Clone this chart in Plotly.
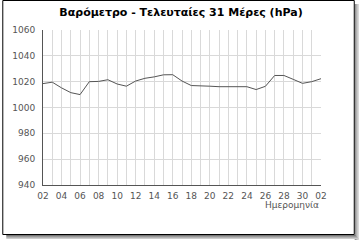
import plotly.graph_objects as go

days = ["02","03","04","05","06","07","08","09","10","11","12","13","14","15","16",
        "17","18","19","20","21","22","23","24","25","26","27","28","29","30","01","02"]
pressure = [1018.5, 1019.6, 1015.2, 1011.5, 1010.0, 1020.0, 1020.2, 1021.5, 1018.2, 1016.5,
            1020.5, 1022.6, 1023.7, 1025.3, 1025.4, 1020.5, 1017.0, 1016.9, 1016.5, 1016.1,
            1016.1, 1016.1, 1016.1, 1013.9, 1016.4, 1024.8, 1024.8, 1021.8, 1018.7, 1020.0, 1022.3]
y_ticks = [940, 960, 980, 1000, 1020, 1040, 1060]

title = "Βαρόμετρο - Τελευταίες 31 Μέρες (hPa)"
xlabel = "Ημερομηνία"

W, H = 360, 240
L, R, T, B = 41, 39, 30, 55
PW, PH = W - L - R, H - T - B

def px(x):
    return (x - L) / PW

def py(y):
    return (H - B - y) / PH

idx = list(range(len(days)))
ticktext = [d if i % 2 == 0 else "" for i, d in enumerate(days)]

fig = go.Figure()
fig.add_trace(go.Scatter(x=idx, y=pressure, mode="lines",
                         line=dict(color="#555555", width=1), hoverinfo="skip"))

fig.update_layout(
    width=W, height=H,
    margin=dict(l=L, r=R, t=T, b=B),
    paper_bgcolor="white", plot_bgcolor="white",
    showlegend=False,
    title=dict(text=title, x=181 / W, xanchor="center", y=1 - 12.5 / H, yanchor="middle",
               font=dict(family="DejaVu Sans", size=11, color="black", weight="bold")),
    font=dict(family="DejaVu Sans", size=9, color="#555555"),
)
fig.update_xaxes(range=[0, len(days) - 1], tickvals=idx, ticktext=ticktext,
                 showgrid=True, gridcolor="#d9d9d9", gridwidth=1,
                 showline=True, linecolor="#555555", linewidth=1,
                 zeroline=False, ticks="", ticklabelstandoff=2,
                 tickfont=dict(family="DejaVu Sans", size=9, color="#555555"))
fig.update_yaxes(range=[940, 1060], tickvals=y_ticks,
                 showgrid=True, gridcolor="#d9d9d9", gridwidth=1,
                 showline=True, linecolor="#555555", linewidth=1,
                 zeroline=False, ticks="", ticklabelstandoff=5,
                 tickfont=dict(family="DejaVu Sans", size=9, color="#555555"))

fig.add_annotation(text=xlabel, xref="paper", yref="paper", x=px(321), y=py(205),
                   xanchor="right", yanchor="middle", showarrow=False,
                   font=dict(family="DejaVu Sans", size=9, color="#555555"))

shapes = []
# drop shadow
shadow_cols = ["#777777", "#999999", "#b3b3b3", "#cccccc"]
for k, c in enumerate(shadow_cols):
    shapes.append(dict(type="rect", xref="paper", yref="paper",
                       x0=px(355 + k), x1=px(356 + k), y0=py(4), y1=py(240),
                       fillcolor=c, line=dict(width=0), layer="above"))
    shapes.append(dict(type="rect", xref="paper", yref="paper",
                       x0=px(4), x1=px(356 + k), y0=py(235 + k), y1=py(236 + k),
                       fillcolor=c, line=dict(width=0), layer="above"))
# frame
shapes.append(dict(type="rect", xref="paper", yref="paper",
                   x0=px(0.5), x1=px(354.5), y0=py(234.5), y1=py(0.5),
                   line=dict(color="black", width=1), fillcolor="rgba(0,0,0,0)", layer="above"))
fig.update_layout(shapes=shapes)

fig.write_html("out.html", config={"displayModeBar": False})
